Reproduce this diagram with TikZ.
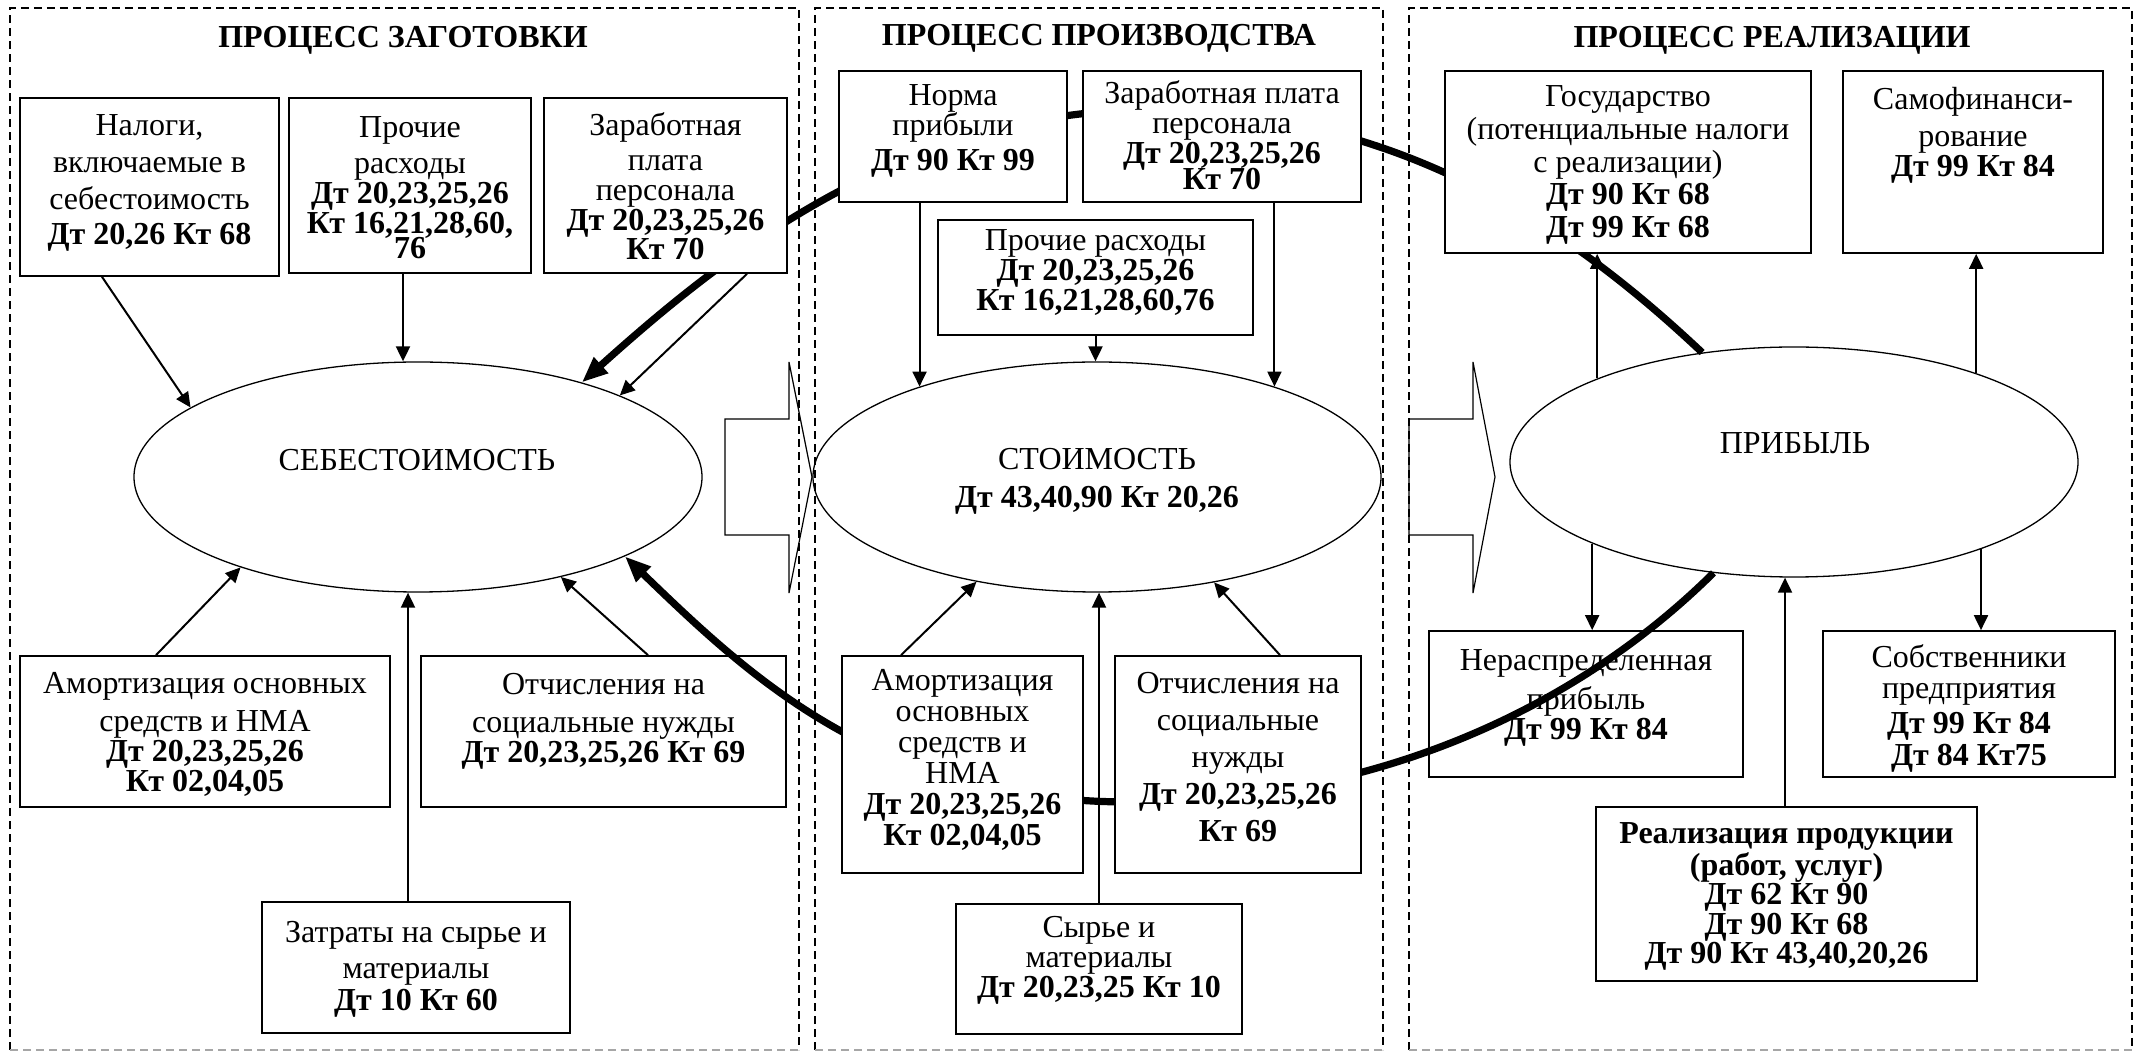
\documentclass[tikz,border=0pt]{standalone}
\usepackage{fontspec}
\setmainfont{Liberation Serif}
\usetikzlibrary{shapes.geometric,arrows.meta}
\begin{document}
\begin{tikzpicture}[x=0.5pt,y=-0.5pt,
 panel/.style={line width=0.55pt, dash pattern=on 4pt off 2.5pt},
 box/.style={draw, rectangle, line width=0.85pt, fill=white, inner sep=0pt},
 txt/.style={align=center, inner sep=0pt, font=\fontsize{16}{15}\selectfont},
 oval/.style={draw, ellipse, line width=0.65pt, inner sep=0pt, minimum width=284pt, minimum height=115pt},
 arr/.style={line width=1pt, -{Triangle[length=7.5pt,width=7pt]}},
 bigarr/.style={line width=3.6pt, -{Triangle[length=13pt,width=10pt]}},
 blk/.style={draw, line width=0.6pt},
 ttl/.style={inner sep=0pt, font=\fontsize{16}{18}\selectfont\bfseries}]

\useasboundingbox (0,0) rectangle (2136,1052);

% panels
\draw[panel] (10,1050) -- (10,8) -- (799,8) -- (799,1050);
\draw[panel, black!35] (10,1050) -- (799,1050);
\draw[panel] (815,1050) -- (815,8) -- (1383,8) -- (1383,1050);
\draw[panel, black!35] (815,1050) -- (1383,1050);
\draw[panel] (1409,1050) -- (1409,8) -- (2132,8) -- (2132,1050);
\draw[panel, black!35] (1409,1050) -- (2132,1050);

\node[ttl] (t1) at (403,40) {ПРОЦЕСС ЗАГОТОВКИ};
\node[ttl] (t2) at (1099,38) {ПРОЦЕСС ПРОИЗВОДСТВА};
\node[ttl] (t3) at (1772,40) {ПРОЦЕСС РЕАЛИЗАЦИИ};

% block arrows
\draw[blk] (725,419) -- (789,419) -- (789,362) -- (812,477) -- (789,593) -- (789,535) -- (725,535) -- cycle;
\draw[blk] (1409,419) -- (1473,419) -- (1473,362) -- (1495,477) -- (1473,593) -- (1473,535) -- (1409,535) -- cycle;

% ellipses
\node[oval] (seb) at (418,477) {};
\node[oval] (cost) at (1097,477) {};
\node[oval] (prof) at (1794,462) {};
\node[txt] (sebT) at (417,460) {СЕБЕСТОИМОСТЬ};
\node[txt, font=\fontsize{16}{19}\selectfont] (costT) at (1097,481) {СТОИМОСТЬ\\ \textbf{Дт 43,40,90 Кт 20,26}};
\node[txt] (profT) at (1795,443) {ПРИБЫЛЬ};

% boxes under the thick curves
\node[box, minimum width=157pt, minimum height=73pt] (nerasp) at (1586,704) {};
\node[txt] (neraspT) at (1586,697.5) {Нераспределенная\\[4.5pt] прибыль\\ \textbf{Дт 99 Кт 84}};
\node[box, minimum width=182.5pt, minimum height=75.5pt] (otch1) at (603.5,731.5) {};
\node[txt] (otch1T) at (603.5,721) {Отчисления на\\[4pt] социальные нужды\\ \textbf{Дт 20,23,25,26 Кт 69}};

% thick curves
\draw[bigarr] (prof.130) .. controls (1571,229) and (1400,110) .. (1150,110)
  .. controls (900,110) and (716,262) .. (seb.30);
\draw[bigarr] (prof.-126) .. controls (1580,705) and (1380,802) .. (1130,802)
  .. controls (880,802) and (750,677) .. (seb.-21);

% boxes: panel 1
\node[box, minimum width=129.5pt, minimum height=89pt] (nal) at (149.5,187) {};
\node[txt, font=\fontsize{16}{18.5}\selectfont] (nalT) at (149.5,183) {Налоги,\\ включаемые в\\ себестоимость\\[-1pt] \textbf{Дт 20,26 Кт 68}};
\node[box, minimum width=121pt, minimum height=87.5pt] (proch1) at (410,185.5) {};
\node[txt] (proch1T) at (410,188) {Прочие\\[3pt] расходы\\ \textbf{Дт 20,23,25,26}\\ \textbf{Кт 16,21,28,60,}\\[-2.5pt] \textbf{76}};
\node[box, minimum width=121.5pt, minimum height=87.5pt] (zar1) at (665.5,185.5) {};
\node[txt] (zar1T) at (665.5,186) {Заработная\\[2.5pt] плата\\ персонала\\ \textbf{Дт 20,23,25,26}\\[-0.5pt] \textbf{Кт 70}};
\node[box, minimum width=185pt, minimum height=75.5pt] (amort1) at (205,731.5) {};
\node[txt] (amort1T) at (205,734) {Амортизация основных\\[4pt] средств и НМА\\ \textbf{Дт 20,23,25,26}\\ \textbf{Кт 02,04,05}};
\node[box, minimum width=154pt, minimum height=65.5pt] (zatr) at (416,967.5) {};
\node[txt, font=\fontsize{16}{16}\selectfont] (zatrT) at (416,969) {Затраты на сырье и\\[2pt] материалы\\ \textbf{Дт 10 Кт 60}};

% boxes: panel 2
\node[box, minimum width=114pt, minimum height=65.5pt] (norma) at (953,136.5) {};
\node[txt] (normaT) at (953,130.5) {Норма\\ прибыли\\[2.5pt] \textbf{Дт 90 Кт 99}};
\node[box, minimum width=139pt, minimum height=65.5pt] (zar2) at (1222,136.5) {};
\node[txt] (zar2T) at (1222,135) {Заработная плата\\ персонала\\ \textbf{Дт 20,23,25,26}\\[-2pt] \textbf{Кт 70}};
\node[box, minimum width=157.5pt, minimum height=57.5pt] (proch2) at (1095.5,277.5) {};
\node[txt] (proch2T) at (1095.5,273) {Прочие расходы\\ \textbf{Дт 20,23,25,26}\\ \textbf{Кт 16,21,28,60,76}};
\node[box, minimum width=120.5pt, minimum height=108.5pt] (amort2) at (962.5,764.5) {};
\node[txt, font=\fontsize{16}{15.5}\selectfont] (amort2T) at (962.5,760) {Амортизация\\ основных\\ средств и\\ НМА\\ \textbf{Дт 20,23,25,26}\\ \textbf{Кт 02,04,05}};
\node[box, minimum width=123pt, minimum height=108.5pt] (otch2) at (1238,764.5) {};
\node[txt, font=\fontsize{16}{18.5}\selectfont] (otch2T) at (1238,757) {Отчисления на\\ социальные\\ нужды\\ \textbf{Дт 20,23,25,26}\\ \textbf{Кт 69}};
\node[box, minimum width=143pt, minimum height=65pt] (syr) at (1099,969) {};
\node[txt] (syrT) at (1099,960) {Сырье и\\ материалы\\ \textbf{Дт 20,23,25 Кт 10}};

% boxes: panel 3
\node[box, minimum width=183pt, minimum height=91pt] (gos) at (1628,162) {};
\node[txt, font=\fontsize{16}{16.4}\selectfont] (gosT) at (1628,165) {Государство\\ (потенциальные налоги\\ с реализации)\\ \textbf{Дт 90 Кт 68}\\ \textbf{Дт 99 Кт 68}};
\node[box, minimum width=130pt, minimum height=91pt] (samo) at (1973,162) {};
\node[txt] (samoT) at (1973,135) {Самофинанси-\\[3.5pt] рование\\ \textbf{Дт 99 Кт 84}};
\node[box, minimum width=146pt, minimum height=73pt] (sobst) at (1969,704) {};
\node[txt, font=\fontsize{16}{16}\selectfont] (sobstT) at (1969,708) {Собственники\\[-0.5pt] предприятия\\[1.5pt] \textbf{Дт 99 Кт 84}\\ \textbf{Дт 84 Кт75}};
\node[box, minimum width=190.5pt, minimum height=87pt] (real) at (1786.5,894) {};
\node[txt, font=\fontsize{16}{14.8}\selectfont\bfseries] (realT) at (1786.5,896.5) {Реализация продукции\\ (работ, услуг)\\ Дт 62 Кт 90\\ Дт 90 Кт 68\\ Дт 90 Кт 43,40,20,26};

% thin arrows: panel 1
\draw[arr] ([xshift=-23.75pt]nal.south) -- (seb.163);
\draw[arr] ([xshift=-3.5pt]proch1.south) -- ([xshift=-3.5pt]proch1.south |- seb.north);
\draw[arr] ([xshift=40.75pt]zar1.south) -- (seb.22);
\draw[arr] ([xshift=-24.5pt]amort1.north) -- (seb.-153);
\draw[arr] ([xshift=-4pt]zatr.north) -- ([xshift=-4pt]zatr.north |- seb.south);
\draw[arr] ([xshift=22.25pt]otch1.north) -- (seb.-35);

% thin arrows: panel 2
\draw[arr] (cost.153 |- norma.south) -- (cost.153);
\draw[arr] (proch2.south) -- (proch2.south |- cost.north);
\draw[arr] (cost.27 |- zar2.south) -- (cost.27);
\draw[arr] ([xshift=-30.75pt]amort2.north) -- (cost.-139);
\draw[arr] (syr.north) -- (syr.north |- cost.south);
\draw[arr] ([xshift=21pt]otch2.north) -- (cost.-42);

% thin arrows: panel 3
\draw[arr] (prof.157) -- (prof.157 |- gos.south);
\draw[arr] (prof.26) -- (prof.26 |- samo.south);
\draw[arr] (prof.-158) -- (prof.-158 |- nerasp.north);
\draw[arr] (prof.-25) -- (prof.-25 |- sobst.north);
\draw[arr] ([xshift=-0.75pt]real.north) -- ([xshift=-0.75pt]real.north |- prof.south);
\end{tikzpicture}
\end{document}
